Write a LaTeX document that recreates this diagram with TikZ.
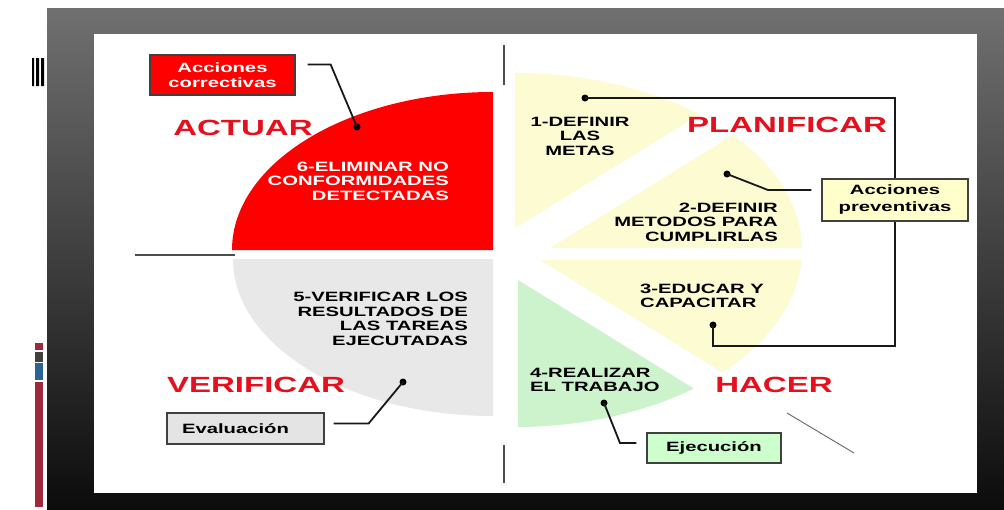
\documentclass[tikz,border=0pt]{standalone}
\usepackage{fontspec}
\setmainfont{Liberation Sans}[FakeStretch=1.5]
\usetikzlibrary{positioning,calc}
\definecolor{pdcared}{RGB}{255,0,0}
\definecolor{labelred}{RGB}{228,16,30}
\definecolor{pdcagray}{RGB}{232,232,232}
\definecolor{pdcayellow}{RGB}{252,251,210}
\definecolor{pdcagreen}{RGB}{204,243,204}
\definecolor{boxyellow}{RGB}{255,255,204}
\definecolor{boxgreen}{RGB}{204,255,204}
\definecolor{boxgray}{RGB}{228,228,228}
\definecolor{frametop}{RGB}{112,112,112}
\definecolor{framebot}{RGB}{12,12,12}
\definecolor{barred}{RGB}{160,40,60}
\definecolor{barblue}{RGB}{40,100,150}

\begin{document}
\begin{tikzpicture}[x=1pt, y=1pt,
            phase/.style={text=labelred, font=\fontsize{22}{24}\selectfont\bfseries, inner sep=0pt},
            task/.style={font=\fontsize{13.5}{14.5}\selectfont\bfseries, inner sep=0pt},
            callout/.style={rectangle, draw=black!75, line width=1.2pt, font=\fontsize{13.5}{14.5}\selectfont\bfseries, align=center, inner sep=2pt},
            bullet/.style={circle, fill=black, inner sep=0pt, minimum size=7pt},
            lead/.style={line width=1.8pt, black!90},
            guide/.style={line width=1.4pt, black!70}
        ]
        \useasboundingbox (0,0) rectangle (1004,-509);

        % marco
        \fill[white] (0,0) rectangle (1004,-509);
        \shade[top color=frametop, bottom color=framebot] (47,-8) rectangle (1004,-509);
        \fill[white] (94,-34) rectangle (977,-493);
        \fill[black] (32,-58) rectangle (34,-86) (36,-58) rectangle (39,-86) (41,-58) rectangle (44,-86);
        \fill[barred] (35,-343) rectangle (43,-350);
        \fill[black!75] (35,-352) rectangle (43,-362);
        \fill[barblue] (35,-363) rectangle (43,-380);
        \fill[barred] (35,-382) rectangle (43,-507);

        % circulo izquierdo
        \fill[pdcared] (493,-250) -- (232,-250) arc[start angle=180, end angle=90, x radius=261pt, y radius=158pt] -- cycle;
        \fill[pdcagray] (493,-259) -- (233,-259) arc[start angle=180, end angle=270, x radius=260pt, y radius=157pt] -- cycle;

        % circulo derecho
        \coordinate (rc) at (515,-250);
        \fill[pdcayellow] (515,-228) -- ([shift={(50:287pt and 177pt)}]rc) arc[start angle=50, end angle=90, x radius=287pt, y radius=177pt] -- cycle;
        \fill[pdcayellow] (550,-248) -- ([shift={(40.5:287pt and 177pt)}]rc) arc[start angle=40.5, end angle=0.6, x radius=287pt, y radius=177pt] -- cycle;
        \fill[pdcayellow] (540,-260) -- ([shift={(-3.2:287pt and 177pt)}]rc) arc[start angle=-3.2, end angle=-43.7, x radius=287pt, y radius=177pt] -- cycle;
        \fill[pdcagreen] (518,-280) -- ([shift={(-51.5:287pt and 177pt)}]rc) arc[start angle=-51.5, end angle=-89.4, x radius=287pt, y radius=177pt] -- cycle;

        \draw[guide] (504,-45) -- (504,-85);
        \draw[guide] (504,-445) -- (504,-483);
        \draw[guide] (135,-255) -- (235,-255);
        \draw[line width=0.9pt, black!60] (787,-413) -- (854,-453);

        \node[phase] (actuar) at (243,-128) {ACTUAR};
        \node[phase] (planificar) at (787,-125) {PLANIFICAR};
        \node[phase] (verificar) at (256,-385) {VERIFICAR};
        \node[phase] (hacer) at (774,-385) {HACER};

        \node[task, text=white, align=right, anchor=east] (eliminar) at (449,-181) {6-ELIMINAR NO\\CONFORMIDADES\\DETECTADAS};
        \node[task, align=right, anchor=east] (verif) at (468,-319) {5-VERIFICAR LOS\\RESULTADOS DE\\LAS TAREAS\\EJECUTADAS};
        \node[task, align=center] (metas) at (580,-136) {1-DEFINIR\\LAS\\METAS};
        \node[task, align=right, anchor=east] (metodos) at (778,-222) {2-DEFINIR\\METODOS PARA\\CUMPLIRLAS};
        \node[task, align=left, anchor=west] (educar) at (640,-296) {3-EDUCAR Y\\CAPACITAR};
        \node[task, align=left, anchor=west] (trabajo) at (530,-380) {4-REALIZAR\\EL TRABAJO};

        \node[callout, fill=pdcared, text=white, minimum width=145pt, minimum height=40pt] (correct) at (222.5,-75) {Acciones\\correctivas};
        \node[callout, fill=boxyellow, minimum width=146pt, minimum height=42pt, font=\fontsize{13.5}{17}\selectfont\bfseries] (prevent) at (895,-200) {Acciones\\preventivas};
        \node[callout, fill=boxgray, minimum width=157pt, minimum height=31pt, text width=127pt, align=left] (evalu) at (245.5,-428.5) {Evaluación};
        \node[callout, fill=boxgreen, minimum width=134pt, minimum height=30pt] (ejec) at (714,-448) {Ejecución};

        \node[bullet] (dcorr) at (357,-127) {};
        \node[bullet] (dmeta) at (585,-98) {};
        \node[bullet] (dmetodo) at (727,-174) {};
        \node[bullet] (deduc) at (713,-325) {};
        \node[bullet] (dtrab) at (604,-403) {};
        \node[bullet] (deval) at (403,-382) {};

        % lineas de llamada
        \draw[lead] ([shift={(12,-10)}]correct.north east) -- ++(23,0) -- (dcorr.center);
        \draw[lead] (dmeta.center) -| (prevent.north);
        \draw[lead] (prevent.south) |- ([yshift=-21]deduc.center) -- (deduc.center);
        \draw[lead] (dmetodo.center) -- ++(41,-16) -- ([shift={(-10,10)}]prevent.west);
        \draw[lead] ([shift={(9,5)}]evalu.east) -- ++(35,0) -- (deval.center);
        \draw[lead] (dtrab.center) -- ++(16,-40) -- ([shift={(-10,5)}]ejec.west);
        \end{tikzpicture}
\end{document}
